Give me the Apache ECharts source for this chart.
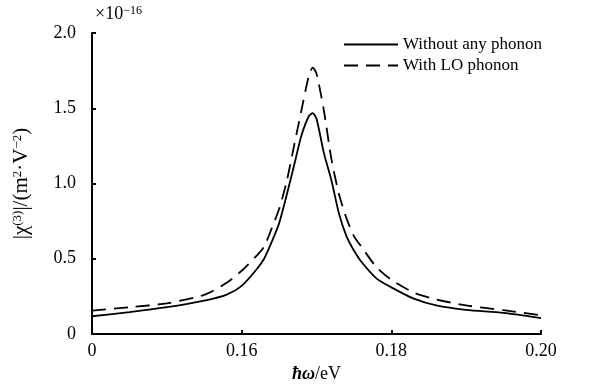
<!DOCTYPE html>
<html>
<head>
<meta charset="utf-8">
<script src="https://cdn.jsdelivr.net/npm/echarts@6/dist/echarts.min.js"></script>
<style>html,body{margin:0;padding:0;background:#fff}#c{width:590px;height:388px}</style>
</head>
<body>
<div id="c"></div>
<script>
// photon energy (eV); the axis origin (0.14) is labelled "0" in the original
var energy = [0.140,0.145,0.150,0.155,0.158,0.160,0.162,0.163,0.164,0.165,0.166,0.167,0.168,0.169,0.1695,0.170,0.171,0.172,0.173,0.174,0.175,0.176,0.178,0.180,0.183,0.186,0.190,0.195,0.200];
// |chi(3)| in units of 1e-16 m^2 V^-2
var withoutPhonon = [0.118,0.145,0.178,0.222,0.262,0.32,0.43,0.50,0.61,0.735,0.92,1.12,1.32,1.45,1.467,1.43,1.20,1.02,0.80,0.65,0.555,0.48,0.37,0.31,0.235,0.19,0.16,0.14,0.105];
var withLOPhonon  = [0.155,0.178,0.204,0.26,0.34,0.42,0.52,0.58,0.70,0.83,1.01,1.25,1.49,1.72,1.77,1.73,1.48,1.16,0.93,0.77,0.65,0.58,0.445,0.36,0.275,0.23,0.19,0.158,0.125];
var seriesNames = ['Without any phonon','With LO phonon'];
var xTicks = [0.14,0.16,0.18,0.20];
var xTickLabels = ['0','0.16','0.18','0.20'];

function pairs(xs, ys){ return xs.map(function(x,i){ return [x, ys[i]]; }); }

var FONT = '"Liberation Serif", "DejaVu Serif", serif';
var chart = echarts.init(document.getElementById('c'), null, {renderer:'canvas'});
chart.setOption({
  animation:false,
  backgroundColor:'#fff',
  grid:{left:92, right:49, top:33, bottom:51},
  legend:{
    orient:'vertical', left:338, top:31, itemWidth:54, itemHeight:10, itemGap:4,
    itemStyle:{opacity:0},
    textStyle:{fontFamily:FONT, fontSize:17, color:'#000'},
    data:seriesNames
  },
  graphic:[{
    type:'text', left:95, top:5,
    style:{
      text:'{a|×10}{s|−16}', fill:'#000',
      rich:{a:{fontFamily:FONT, fontSize:18, verticalAlign:'bottom'}, s:{fontFamily:FONT, fontSize:12, verticalAlign:'top'}}
    }
  }],
  xAxis:{
    type:'value', min:0.14, max:0.20, interval:0.02,
    axisLine:{lineStyle:{color:'#000', width:2}},
    axisTick:{inside:true, length:4, lineStyle:{color:'#000', width:2}},
    splitLine:{show:false},
    axisLabel:{fontFamily:FONT, fontSize:18, color:'#000', margin:8,
      formatter:function(v){ for(var i=0;i<xTicks.length;i++){ if(Math.abs(v-xTicks[i])<1e-9) return xTickLabels[i]; } return ''; }},
    name:'{i|ħω}/eV', nameLocation:'middle', nameGap:31,
    nameTextStyle:{fontFamily:FONT, fontSize:18, color:'#000',
      rich:{i:{fontFamily:FONT, fontSize:18, fontStyle:'italic', fontWeight:'bold'}}}
  },
  yAxis:{
    type:'value', min:0, max:2.0, interval:0.5,
    axisLine:{show:true, lineStyle:{color:'#000', width:2}},
    axisTick:{show:true, inside:true, length:4, lineStyle:{color:'#000', width:2}},
    splitLine:{show:false},
    axisLabel:{fontFamily:FONT, fontSize:18, color:'#000', margin:16,
      formatter:function(v){ return v===0 ? '0' : v.toFixed(1); }},
    name:'|χ{s|(3)}|/(m{s|2}·V{s|−2})', nameLocation:'middle', nameGap:60, nameRotate:90,
    nameTextStyle:{fontFamily:FONT, fontSize:21, color:'#000',
      rich:{s:{fontFamily:FONT, fontSize:13, verticalAlign:'top'}}}
  },
  series:[
    {name:seriesNames[0], type:'line', data:pairs(energy, withoutPhonon), smooth:0.25, symbol:'none',
     lineStyle:{color:'#000', width:1.8, type:'solid'}, itemStyle:{color:'#000'}},
    {name:seriesNames[1], type:'line', data:pairs(energy, withLOPhonon), smooth:0.25, symbol:'none',
     lineStyle:{color:'#000', width:1.8, type:[14,8]}, itemStyle:{color:'#000'}}
  ]
});
</script>
</body>
</html>
